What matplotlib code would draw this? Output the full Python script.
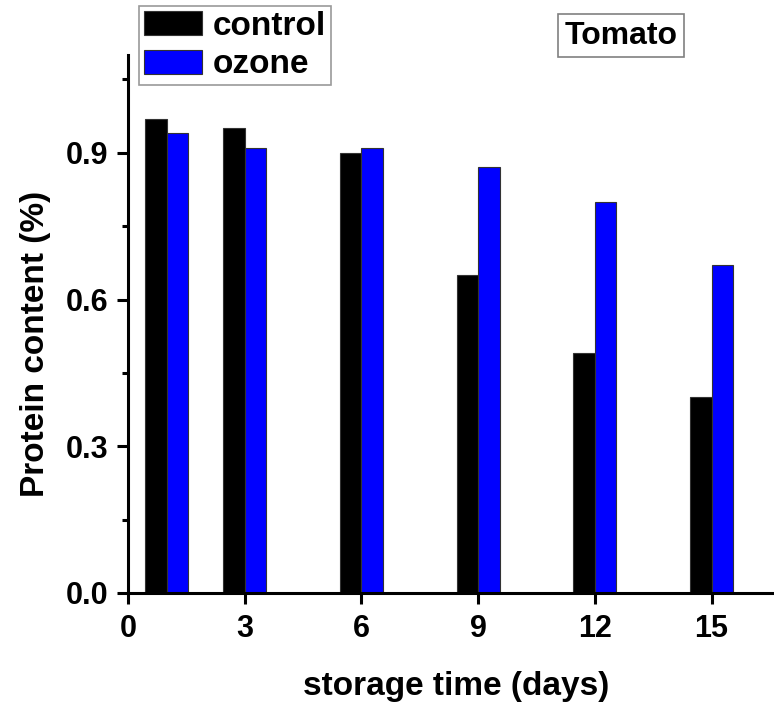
import matplotlib
matplotlib.use("Agg")
import matplotlib.pyplot as plt
import numpy as np
from matplotlib.ticker import MultipleLocator

plt.rcParams['font.family'] = ['Liberation Sans', 'DejaVu Sans']
plt.rcParams['font.weight'] = 'bold'

days = [1, 3, 6, 9, 12, 15]
control = [0.97, 0.95, 0.90, 0.65, 0.49, 0.40]
ozone = [0.94, 0.91, 0.91, 0.87, 0.80, 0.67]
xticks = [0, 3, 6, 9, 12, 15]
yticks = [0.0, 0.3, 0.6, 0.9]

fig = plt.figure(figsize=(7.74, 7.02), dpi=100)
ax = fig.add_axes([128/774, 1-593/702, 1-128/774, (593-55)/702])

w = 0.555
x = np.array(days, dtype=float)
ax.bar(x - w/2, control, width=w, color='black', edgecolor='#333333', linewidth=0.8, label='control')
ax.bar(x + w/2, ozone, width=w, color='#0000ff', edgecolor='#333333', linewidth=0.8, label='ozone')

ax.set_xlim(0, 646/38.9)
ax.set_ylim(0, 1.1)
ax.set_xticks(xticks)
ax.set_xticklabels([str(t) for t in xticks])
ax.set_yticks(yticks)
ax.set_yticklabels([f"{t:.1f}" for t in yticks])
ax.yaxis.set_minor_locator(MultipleLocator(0.15))

for s in ['top', 'right']:
    ax.spines[s].set_visible(False)
for s in ['left', 'bottom']:
    ax.spines[s].set_linewidth(2.2)

ax.tick_params(axis='both', which='major', direction='out', length=8, width=2.2, labelsize=22)
ax.tick_params(axis='y', which='major', pad=6)
ax.tick_params(axis='x', which='major', pad=7)
ax.tick_params(axis='y', which='minor', direction='out', length=4, width=2.2)

ax.set_xlabel('storage time (days)', fontsize=24, fontweight='bold')
ax.set_ylabel('Protein content (%)', fontsize=24, fontweight='bold')
ax.xaxis.set_label_coords((456-128)/646, -(687-593)/538)
ax.yaxis.set_label_coords(-(128-36)/646, (593-344)/538)
ax.xaxis.label.set_va('center')
ax.yaxis.label.set_va('center')

leg = ax.legend(loc='upper left', bbox_to_anchor=(11/646, 1+49/538), fontsize=24,
                frameon=True, fancybox=False, edgecolor='#808080', handlelength=1.75,
                handleheight=0.72, borderpad=0.15, labelspacing=0.22, handletextpad=0.3,
                borderaxespad=0)
leg.get_frame().set_linewidth(1.2)
for t in leg.get_texts():
    t.set_fontweight('bold')

ax.text(621/774, 1-35.5/702, 'Tomato', transform=fig.transFigure, fontsize=23,
        fontweight='bold', ha='center', va='center',
        bbox=dict(boxstyle='square,pad=0.2', facecolor='white', edgecolor='#808080', linewidth=1.2))

fig.savefig('out.png', dpi=100)
